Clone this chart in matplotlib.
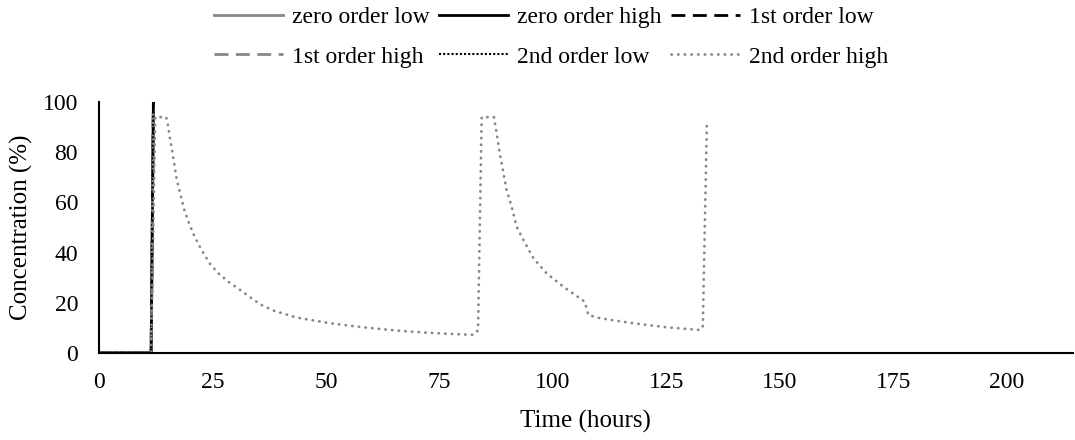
import matplotlib.pyplot as plt

plt.rcParams["font.family"] = ["Liberation Serif", "DejaVu Serif"]

# time (hours) and concentration (%)
early_t = [0, 2, 4, 6, 8, 10, 11.5, 12.0]
zero_low = [0, 0, 0, 0, 0, 0, 0, 95]
zero_high = [0, 0, 0, 0, 0, 0, 0, 100]
first_low = [0, 0, 0, 0, 0, 0, 0, 100]
first_high = [0, 0, 0, 0, 0, 0, 0, 96]
second_low = [0, 0, 0, 0, 0, 0, 0, 100]

second_high_t = [
    0, 5, 11.5, 12.4, 13.2, 14.8, 15.1, 15.6, 16.4, 17.1, 17.8, 18.9, 20.0,
    21.1, 22.6, 24.4, 26.3, 28.5, 31.1, 33.6, 35.8, 38.4, 43.5, 50.9, 58.2,
    65.5, 71.8, 77.0, 82.4, 83.5, 84.3, 87.0, 87.6, 88.3, 89.1, 89.8, 90.9,
    92.0, 93.5, 95.7, 98.6, 102.3, 105.9, 107.0, 107.8, 110.4, 117.7, 125.0,
    132.0, 133.0, 133.9,
]
second_high = [
    0, 0, 0, 94, 94, 94, 92, 86.2, 77.6, 69.6, 64.3, 56.4, 51.0,
    46.3, 41.0, 35.7, 31.7, 28.4, 25.1, 21.8, 19.1, 16.9, 14.1, 11.8, 10.2,
    8.9, 8.1, 7.6, 7.2, 9, 94, 94, 87.5, 79.5, 71.6, 64.9, 58.3,
    50.3, 45.0, 37.7, 31.7, 26.4, 21.8, 20.4, 15.1, 13.8, 11.8, 10.2,
    9.2, 10, 92.2,
]

grey = "#878787"
lw = 2.0
dashed = (0, (5, 2.7))
dotted_black = (0, (1, 1))
dotted_grey = (0, (0.1, 2.3))

fig = plt.figure(figsize=(10.75, 4.4), dpi=100)
ax = fig.add_axes([0.092, 0.198, 0.906, 0.570])

l1, = ax.plot(early_t, zero_low, color=grey, lw=lw, label="zero order low")
l2, = ax.plot(early_t, zero_high, color="black", lw=lw, label="zero order high")
l3, = ax.plot(early_t, first_low, color="black", lw=lw, ls=dashed, label="1st order low")
l4, = ax.plot(early_t, first_high, color=grey, lw=lw, ls=dashed, label="1st order high")
l5, = ax.plot(early_t, second_low, color="black", lw=1.5, ls=dotted_black,
              label="2nd order low")
l6, = ax.plot(second_high_t, second_high, color=grey, lw=lw, ls=dotted_grey,
              dash_capstyle="round", label="2nd order high")

ax.set_xlim(0, 214.5)
ax.set_ylim(0, 100)
ax.set_xticks([0, 25, 50, 75, 100, 125, 150, 175, 200])
ax.set_yticks([0, 20, 40, 60, 80, 100])
ax.tick_params(axis="both", length=0, labelsize=17)
ax.tick_params(axis="x", pad=14)
ax.tick_params(axis="y", pad=15)
ax.spines["top"].set_visible(False)
ax.spines["right"].set_visible(False)
ax.spines["left"].set_linewidth(1.5)
ax.spines["bottom"].set_linewidth(1.5)
ax.set_xlabel("Time (hours)", fontsize=18, labelpad=12)
ax.set_ylabel("Concentration (%)", fontsize=18)
ax.yaxis.set_label_coords(-0.068, 0.5)

# matplotlib fills legend columns first; reorder so rows read like the original
handles = [l1, l4, l2, l5, l3, l6]
fig.legend(handles=handles, labels=[h.get_label() for h in handles],
           loc="upper center", bbox_to_anchor=(0.513, 1.034), ncol=3, frameon=False,
           fontsize=17, handlelength=2.9, columnspacing=0.4, handletextpad=0.4,
           labelspacing=0.77)

fig.savefig("out.png", dpi=100)
